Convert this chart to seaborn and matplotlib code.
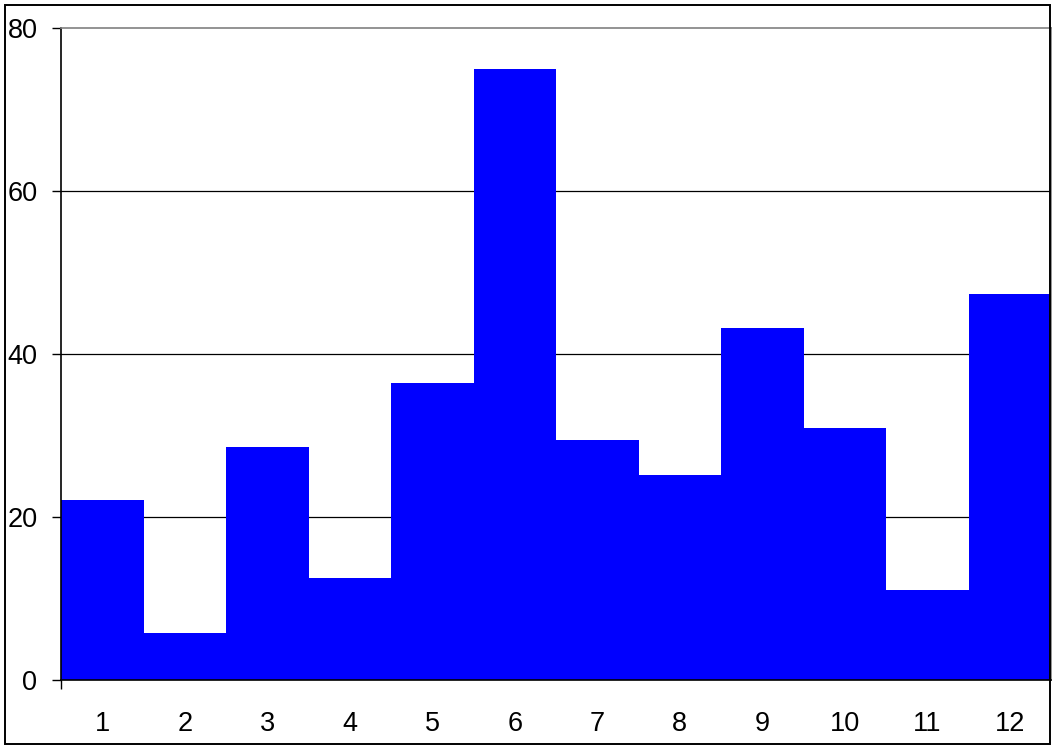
import matplotlib
matplotlib.use("Agg")
import matplotlib.pyplot as plt
import seaborn as sns
import pandas as pd
from matplotlib.patches import Rectangle

categories = ["1", "2", "3", "4", "5", "6", "7", "8", "9", "10", "11", "12"]
values = [22.1, 5.8, 28.6, 12.5, 36.4, 75.0, 29.4, 25.2, 43.2, 30.9, 11.0, 47.4]
yticks = [0, 20, 40, 60, 80]

sns.set_style("white")
plt.rcParams['font.family'] = ['Liberation Sans', 'DejaVu Sans']
plt.rcParams['text.color'] = 'black'
plt.rcParams['xtick.color'] = 'black'
plt.rcParams['ytick.color'] = 'black'
plt.rcParams['xtick.labelcolor'] = 'black'
plt.rcParams['ytick.labelcolor'] = 'black'

W, H = 1055, 749
fig = plt.figure(figsize=(W / 100, H / 100), dpi=100)
ax = fig.add_axes([61 / W, (H - 680) / H, (1051 - 61) / W, (680 - 28) / H])

df = pd.DataFrame({"cat": categories, "val": values})
sns.barplot(data=df, x="cat", y="val", ax=ax, color="#0000FF", saturation=1,
            width=1.0, edgecolor="none", linewidth=0, zorder=2)

ax.set_xlim(-0.5, 11.5)
ax.set_ylim(0, 80)
ax.set_yticks(yticks)
ax.set_xlabel("")
ax.set_ylabel("")

for y in yticks[1:-1]:
    ax.axhline(y, color="black", linewidth=0.9, zorder=1)

for side in ["top", "right"]:
    ax.spines[side].set_color("#808080")
    ax.spines[side].set_linewidth(1.2)
for side in ["left", "bottom"]:
    ax.spines[side].set_color("black")
    ax.spines[side].set_linewidth(1.2)
ax.spines["bottom"].set_zorder(3)

ax.tick_params(axis="y", direction="out", length=6.5, width=1, color="black",
               labelcolor="black", pad=10.5, labelsize=19.5, left=True)
ax.tick_params(axis="x", length=0, pad=22, labelsize=19.5, labelcolor="black")
ax.set_xticks([-0.5], minor=True)
ax.tick_params(axis="x", which="minor", direction="out", length=6.5, width=1,
               color="black", bottom=True)

fig.patches.append(Rectangle((5 / W, (H - 744) / H), (1050 - 5) / W, (744 - 5) / H,
                             transform=fig.transFigure, fill=False,
                             edgecolor="black", linewidth=1.4, zorder=10))

fig.savefig("out.png", dpi=100)
